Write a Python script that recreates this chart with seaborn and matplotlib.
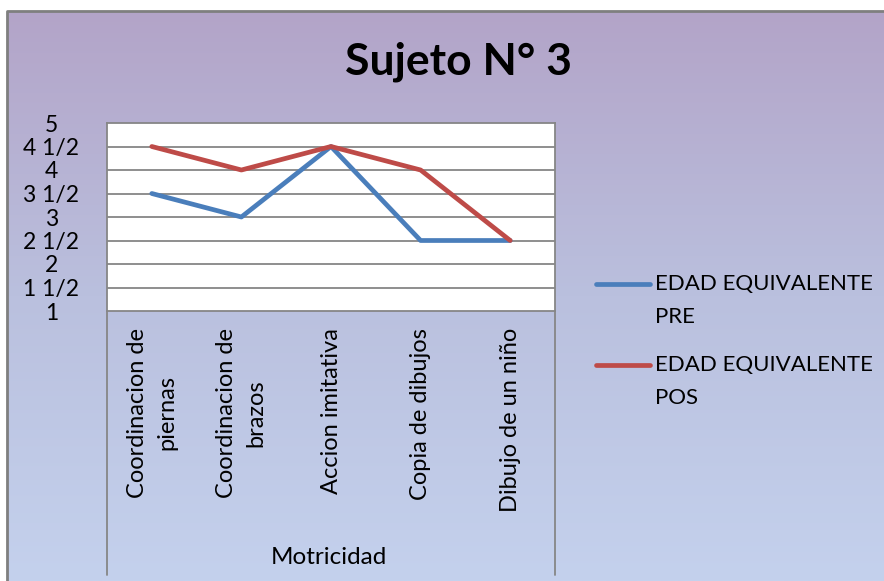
import numpy as np
import pandas as pd
import matplotlib
matplotlib.use("Agg")
import matplotlib.pyplot as plt
import seaborn as sns
from matplotlib.colors import LinearSegmentedColormap

# Data
categories = ["Coordinacion de\npiernas", "Coordinacion de\nbrazos", "Accion imitativa",
              "Copia de dibujos", "Dibujo de un niño"]
pre_values = [3.5, 3.0, 4.5, 2.5, 2.5]
pos_values = [4.5, 4.0, 4.5, 4.0, 2.5]
series_names = ["EDAD EQUIVALENTE\nPRE", "EDAD EQUIVALENTE\nPOS"]
y_ticks = [1, 1.5, 2, 2.5, 3, 3.5, 4, 4.5, 5]
y_tick_labels = ["1", "1 1/2", "2", "2 1/2", "3", "3 1/2", "4", "4 1/2", "5"]
group_label = "Motricidad"
title = "Sujeto N° 3"

colors = {series_names[0]: "#4a7ebb", series_names[1]: "#be4b48"}

df = pd.DataFrame({
    "x": list(range(len(categories))) * 2,
    "valor": pre_values + pos_values,
    "serie": [series_names[0]] * len(categories) + [series_names[1]] * len(categories),
})

sns.set_style("white")
plt.rcParams["font.family"] = ["Lato", "DejaVu Sans"]
plt.rcParams["text.color"] = "black"
plt.rcParams["ytick.color"] = "black"
plt.rcParams["ytick.labelcolor"] = "black"

W, H = 884, 581
fig = plt.figure(figsize=(W / 100, H / 100), dpi=100)

# gradient background with border
bg = fig.add_axes([0, 0, 1, 1], zorder=0)
bg.set_xlim(0, W)
bg.set_ylim(H, 0)
bg.axis("off")
cmap = LinearSegmentedColormap.from_list("bg", ["#b3a4c8", "#bac0de", "#c4d1ed"])
grad = np.linspace(0, 1, 256).reshape(-1, 1)
bg.imshow(grad, cmap=cmap, extent=[7, W, H, 11], aspect="auto")
bg.plot([7, 7, W], [H, 11, 11], color="#7f7f7f", lw=2)

# plot area
x0, x1, y0, y1 = 107, 555, 123, 311
ax = fig.add_axes([x0 / W, 1 - y1 / H, (x1 - x0) / W, (y1 - y0) / H], zorder=1)
ax.set_facecolor("white")

sns.lineplot(data=df, x="x", y="valor", hue="serie", palette=colors, linewidth=3.4,
             ax=ax, legend=False, zorder=3)

ax.set_xlim(-0.5, len(categories) - 0.5)
ax.set_ylim(1, 5)
ax.set_yticks(y_ticks)
ax.set_yticklabels(y_tick_labels, ha="center", fontsize=16.5)
ax.tick_params(axis="y", length=0, pad=40)
ax.set_xticks([])
ax.set_xlabel("")
ax.set_ylabel("")
for yt in y_ticks[1:-1]:
    ax.axhline(yt, color="#868686", lw=1.3, zorder=1)
for s in ax.spines.values():
    s.set_color("#868686")
    s.set_linewidth(1.3)

# category labels, rotated
for i, cat in enumerate(categories):
    ax.text(i, -0.09, cat, rotation=90, ha="center", va="top", multialignment="center",
            fontsize=17, linespacing=1.5, transform=ax.get_xaxis_transform())

# separators of the category group
depth = (575 - y1) / (y1 - y0)
for xs in (0, 1):
    ax.plot([xs, xs], [0, -depth], transform=ax.transAxes, color="#868686", lw=1.3,
            clip_on=False)
ax.text(0.495, -(557 - y1) / (y1 - y0), group_label, transform=ax.transAxes,
        ha="center", va="center", fontsize=17.5)

fig.text(458 / W, 1 - 62 / H, title, ha="center", va="center", fontsize=32,
         fontweight="bold")

# legend
for name, ly in zip(series_names, (284, 365)):
    bg.plot([596, 650], [ly, ly], color=colors[name], lw=3.4, solid_capstyle="round")
    bg.text(655, ly - 10, name, ha="left", va="top", fontsize=16, linespacing=1.8)

fig.savefig("out.png", dpi=100)
